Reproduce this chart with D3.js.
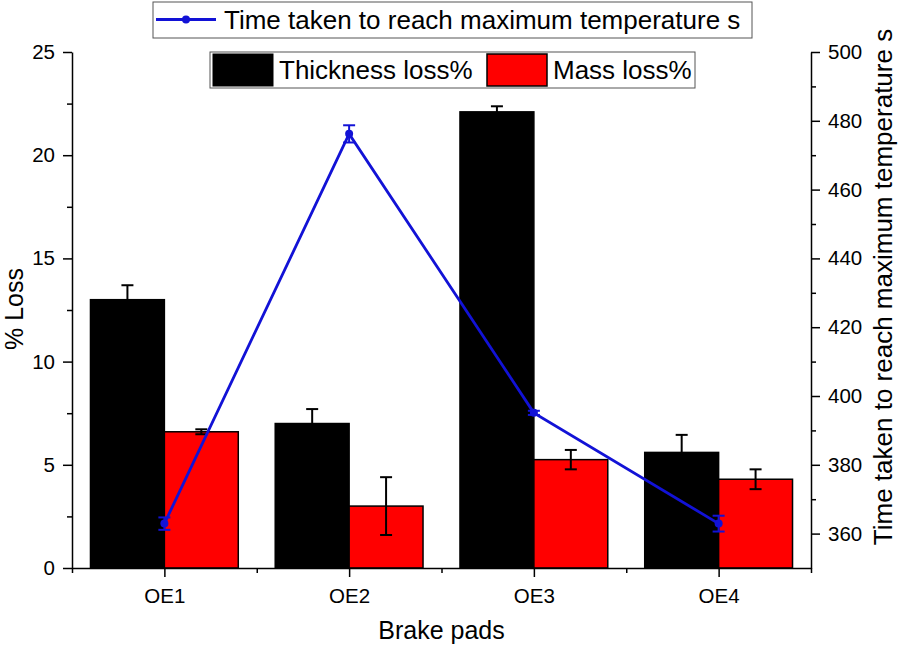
<!DOCTYPE html>
<html>
<head>
<meta charset="utf-8">
<script src="https://cdn.jsdelivr.net/npm/d3@7"></script>
<style>
  body { margin: 0; background: #fff; }
  svg { font-family: "Liberation Sans", Arial, sans-serif; }
</style>
</head>
<body>
<script>
const categories = ["OE1", "OE2", "OE3", "OE4"]
const thicknessLoss = [13.0, 7.0, 22.1, 5.6]
const thicknessErr = [0.7, 0.7, 0.27, 0.85]
const massLoss = [6.6, 3.0, 5.25, 4.3]
const massErr = [0.12, 1.4, 0.47, 0.48]
const timeTaken = [362.9, 476.2, 395.1, 362.9]
const timeErr = [1.8, 2.5, 0.6, 2.3]
const leftTicks = [0, 5, 10, 15, 20, 25]
const rightTicks = [360, 380, 400, 420, 440, 460, 480, 500]

const width = 900
const height = 649
const lineColor = "#1212d6"

const svg = d3.select("body").append("svg")
    .attr("width", width)
    .attr("height", height)

const x = d3.scaleLinear().domain([0.5, 4.5]).range([72, 811])
const yLeft = d3.scaleLinear().domain([0, 25]).range([568, 52])
const yRight = d3.scaleLinear().domain([350, 500]).range([568, 52])
const barW = 0.4

// bars
const barsG = svg.append("g")
categories.forEach((c, i) => {
    barsG.append("rect")
        .attr("x", x(i + 1 - barW))
        .attr("y", yLeft(thicknessLoss[i]))
        .attr("width", x(i + 1) - x(i + 1 - barW))
        .attr("height", yLeft(0) - yLeft(thicknessLoss[i]))
        .attr("fill", "#000")
        .attr("stroke", "#000")
        .attr("stroke-width", 1.5)
    barsG.append("rect")
        .attr("x", x(i + 1))
        .attr("y", yLeft(massLoss[i]))
        .attr("width", x(i + 1 + barW) - x(i + 1))
        .attr("height", yLeft(0) - yLeft(massLoss[i]))
        .attr("fill", "#ff0000")
        .attr("stroke", "#000")
        .attr("stroke-width", 1.5)
})

function errorBar(g, cx, yTop, yBot, color, cap) {
    g.append("line").attr("x1", cx).attr("x2", cx).attr("y1", yTop).attr("y2", yBot)
        .attr("stroke", color).attr("stroke-width", 2)
    g.append("line").attr("x1", cx - cap).attr("x2", cx + cap).attr("y1", yTop).attr("y2", yTop)
        .attr("stroke", color).attr("stroke-width", 2)
    g.append("line").attr("x1", cx - cap).attr("x2", cx + cap).attr("y1", yBot).attr("y2", yBot)
        .attr("stroke", color).attr("stroke-width", 2)
}

const errG = svg.append("g")
categories.forEach((c, i) => {
    errorBar(errG, x(i + 1 - barW / 2), yLeft(thicknessLoss[i] + thicknessErr[i]),
        yLeft(thicknessLoss[i] - thicknessErr[i]), "#000", 6)
    errorBar(errG, x(i + 1 + barW / 2), yLeft(massLoss[i] + massErr[i]),
        yLeft(massLoss[i] - massErr[i]), "#000", 6)
})

// axes
function styleAxis(g) {
    g.selectAll("path, line").attr("stroke", "#000").attr("stroke-width", 1.5)
    g.selectAll("text").attr("font-size", 20.5).attr("fill", "#000")
        .attr("font-family", "'Liberation Sans', Arial, sans-serif")
}

const bottom = svg.append("g").attr("transform", "translate(0,568)")
bottom.call(d3.axisBottom(x).tickValues([1, 2, 3, 4]).tickSize(9).tickSizeOuter(0)
    .tickPadding(11).tickFormat(d => categories[d - 1]))
bottom.append("g").call(d3.axisBottom(x).tickValues([0.5, 1.5, 2.5, 3.5, 4.5])
    .tickSize(5).tickSizeOuter(0).tickFormat(""))
    .select(".domain").remove()
styleAxis(bottom)

const left = svg.append("g").attr("transform", "translate(72,0)")
left.call(d3.axisLeft(yLeft).tickValues(leftTicks).tickSize(9).tickSizeOuter(0).tickPadding(8))
left.append("g").call(d3.axisLeft(yLeft).tickValues([2.5, 7.5, 12.5, 17.5, 22.5])
    .tickSize(5).tickSizeOuter(0).tickFormat(""))
    .select(".domain").remove()
styleAxis(left)

const right = svg.append("g").attr("transform", "translate(811,0)")
right.call(d3.axisRight(yRight).tickValues(rightTicks).tickSize(9).tickSizeOuter(0).tickPadding(8))
right.append("g").call(d3.axisRight(yRight).tickValues([370, 390, 410, 430, 450, 470, 490])
    .tickSize(5).tickSizeOuter(0).tickFormat(""))
    .select(".domain").remove()
styleAxis(right)

// line series
const lineG = svg.append("g")
const line = d3.line()
    .x((d, i) => x(i + 1))
    .y(d => yRight(d))
lineG.append("path")
    .datum(timeTaken)
    .attr("d", line)
    .attr("fill", "none")
    .attr("stroke", lineColor)
    .attr("stroke-width", 2.8)
timeTaken.forEach((v, i) => {
    errorBar(lineG, x(i + 1), yRight(v + timeErr[i]), yRight(v - timeErr[i]), lineColor, 6)
})
lineG.selectAll("circle")
    .data(timeTaken)
    .enter().append("circle")
    .attr("cx", (d, i) => x(i + 1))
    .attr("cy", d => yRight(d))
    .attr("r", 4)
    .attr("fill", lineColor)

// axis titles
svg.append("text")
    .attr("x", 441.5).attr("y", 639)
    .attr("text-anchor", "middle")
    .attr("font-size", 25)
    .text("Brake pads")
svg.append("text")
    .attr("transform", "translate(23,309) rotate(-90)")
    .attr("text-anchor", "middle")
    .attr("font-size", 25)
    .text("% Loss")
svg.append("text")
    .attr("transform", "translate(892,287) rotate(-90)")
    .attr("text-anchor", "middle")
    .attr("font-size", 26)
    .text("Time taken to reach maximum temperature s")

// legends
const leg1 = svg.append("g")
leg1.append("rect").attr("x", 153).attr("y", 2).attr("width", 599).attr("height", 36)
    .attr("fill", "#fff").attr("stroke", "#555").attr("stroke-width", 1)
leg1.append("line").attr("x1", 156).attr("x2", 216).attr("y1", 19.5).attr("y2", 19.5)
    .attr("stroke", lineColor).attr("stroke-width", 2.8)
leg1.append("circle").attr("cx", 186).attr("cy", 19.5).attr("r", 4).attr("fill", lineColor)
leg1.append("text").attr("x", 224).attr("y", 29).attr("font-size", 26)
    .text("Time taken to reach maximum temperature s")

const leg2 = svg.append("g")
leg2.append("rect").attr("x", 210).attr("y", 52).attr("width", 485).attr("height", 36)
    .attr("fill", "#fff").attr("stroke", "#555").attr("stroke-width", 1)
leg2.append("rect").attr("x", 213).attr("y", 54).attr("width", 60).attr("height", 32)
    .attr("fill", "#000").attr("stroke", "#000")
leg2.append("text").attr("x", 279).attr("y", 79).attr("font-size", 26)
    .text("Thickness loss%")
leg2.append("rect").attr("x", 487).attr("y", 54).attr("width", 60).attr("height", 32)
    .attr("fill", "#ff0000").attr("stroke", "#000").attr("stroke-width", 1.5)
leg2.append("text").attr("x", 553).attr("y", 79).attr("font-size", 26)
    .text("Mass loss%")
</script>
</body>
</html>
